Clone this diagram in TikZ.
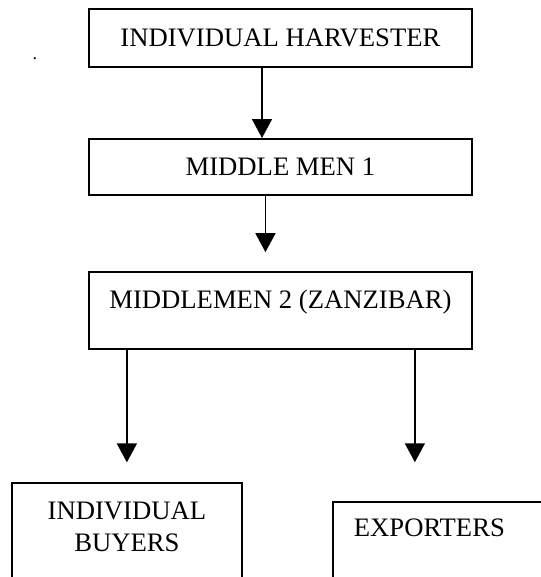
\documentclass[tikz,border=0pt]{standalone}
\usepackage{fontspec}
\setmainfont{Liberation Serif}
\usetikzlibrary{arrows.meta,positioning}

\begin{document}
\begin{tikzpicture}[>={Triangle[width=9pt,length=8.5pt]},
  every node/.style={font=\fontsize{12}{14.4}\selectfont},
  box/.style={draw,line width=0.9pt,align=center,minimum width=172.35pt},
  flow/.style={->,line width=0.6pt}]
\useasboundingbox (-126.2pt,-242.55pt) rectangle (117.2pt,17.1pt);
\clip (-126.2pt,-242.55pt) rectangle (117.2pt,17.1pt);
\node[box,minimum height=26.1pt] (harvester) at (0,0) {INDIVIDUAL HARVESTER};
\node[box,minimum height=25.2pt,below=31.5pt of harvester] (mm1) {MIDDLE MEN 1};
\node[box,inner ysep=0pt,text height=16.57pt,text depth=18.08pt,below=33.8pt of mm1] (mm2) {MIDDLEMEN 2 (ZANZIBAR)};
\node[box,minimum width=103.5pt,inner ysep=0pt,text height=30.5pt,text depth=26.65pt,below=59.5pt of mm2,xshift=-69.1pt] (buyers) {INDIVIDUAL\\BUYERS};
\node[draw,line width=0.9pt,align=left,inner xsep=9.45pt,inner ysep=0pt,text width=85.5pt,text height=15.2pt,text depth=33.4pt,below=68pt of mm2,xshift=75.8pt] (exporters) {EXPORTERS};
\node[font=\fontsize{8}{8}\selectfont] (dot) at (-110.5pt,-9.45pt) {.};
% arrows
\draw[flow] ([xshift=-8.3pt]harvester.south) -- ([xshift=-8.3pt]mm1.north);
\draw[flow,shorten >=8.55pt] ([xshift=-6.75pt]mm1.south) -- ([xshift=-6.75pt]mm2.north);
\draw[flow,shorten >=9pt] (mm2.south -| buyers.north) -- (buyers.north);
\draw[flow,shorten >=17.55pt] ([xshift=60.5pt]mm2.south) -- ([xshift=60.5pt]mm2.south |- exporters.north);
\end{tikzpicture}
\end{document}
